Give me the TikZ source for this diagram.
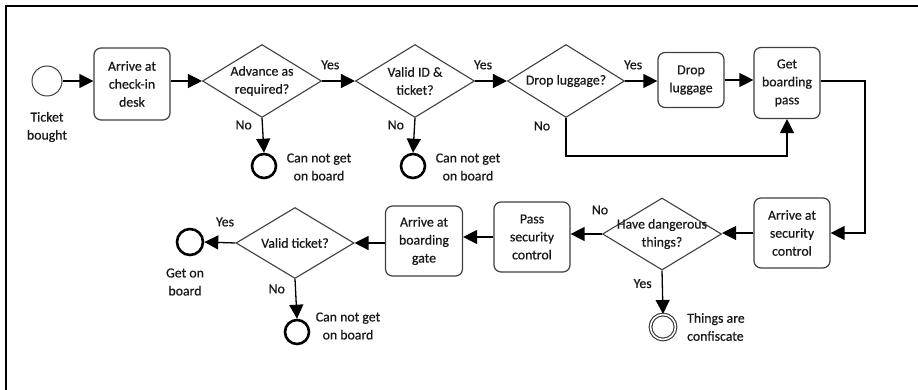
\documentclass[tikz,border=0pt]{standalone}
\usepackage{fontspec}
\setmainfont[FakeBold=0.5]{Carlito}
\usetikzlibrary{shapes.geometric,arrows.meta}
\begin{document}
\begin{tikzpicture}[x=1pt,y=-1pt,
  every node/.style={font=\fontsize{13.8}{18}\selectfont, text=black!90},
  box/.style={draw=black!75, line width=1.2pt, rounded corners=7pt, minimum width=76pt, minimum height=71pt, align=center, inner sep=1pt},
  dia/.style={draw=black!75, line width=1.1pt, diamond, minimum width=119pt, minimum height=73pt, inner sep=0pt},
  endc/.style={circle, draw=black, line width=2.6pt, minimum size=24pt, inner sep=0pt},
  startc/.style={circle, draw=black!75, line width=1pt, minimum size=30pt, inner sep=0pt},
  confc/.style={circle, draw=black!80, line width=1.1pt, double, double distance=1.6pt, minimum size=25pt, inner sep=0pt},
  arr/.style={draw=black, line width=1.3pt, -{Triangle[length=14pt,width=14pt]}},
  lbl/.style={align=center, inner sep=0pt}]
\useasboundingbox (0,0) rectangle (918,390);
\fill[white] (0,0) rectangle (918,390);
\draw[line width=2.6pt, black] (6,390) -- (6,6) -- (918,6);

% row 1
\node[startc] (start) at (47,81) {};
\node[lbl] (tb) at (47,127) {Ticket\\bought};
\node[box] (b1) at (132,84) [minimum height=72pt] {Arrive at\\check-in\\desk};
\node[dia, label={[lbl]center:Advance as\\required?}] (d1) at (262,81) {};
\node[dia, label={[lbl]center:Valid ID \&\\ticket?}] (d2) at (415,81) {};
\node[dia, minimum width=117pt, label={[lbl]center:Drop luggage?}] (d3) at (566,81) {};
\node[box, minimum width=66pt, minimum height=55pt] (drop) at (691,80) {Drop\\luggage};
\node[box, minimum width=66pt] (gbp) at (787,83) {Get\\boarding\\pass};
\node[endc] (e1) at (264,166) {};
\node[lbl] (t1) at (319,167) {Can not get\\on board};
\node[endc] (e2) at (413,166) {};
\node[lbl] (t2) at (468,167) {Can not get\\on board};

% row 2
\node[box, minimum height=70pt] (asc) at (792,233) {Arrive at\\security\\control};
\node[dia, minimum height=72pt, label={[lbl]center:Have dangerous\\things?}] (d4) at (662,234) {};
\node[box, minimum height=70pt] (psc) at (532,237) {Pass\\security\\control};
\node[box, minimum width=77pt, minimum height=70pt] (abg) at (424,241) {Arrive at\\boarding\\gate};
\node[dia, minimum width=118pt, minimum height=71pt, label={[lbl]center:Valid ticket?}] (d5) at (295,243) {};
\node[endc, minimum size=26pt] (geton) at (190,242) {};
\node[lbl] (tg) at (185,282) {Get on\\board};
\node[endc] (e3) at (297,332) {};
\node[lbl] (t3) at (348,326) {Can not get\\on board};
\node[confc] (conf) at (663,327) {};
\node[lbl, anchor=west, align=left] (tc) at (687,327) {Things are\\confiscate};

% connectors row 1
\draw[arr] (start.east) -- (start.east -| b1.west);
\draw[arr] (b1.east |- d1.west) -- (d1.west);
\draw[arr] (d1.east) -- (d2.west) node[pos=0.25, lbl, above=11pt] {Yes};
\draw[arr] (d2.east) -- (d3.west) node[pos=0.25, lbl, above=11pt] {Yes};
\draw[arr] (d3.east) -- (d3.east -| drop.west) node[pos=0.25, lbl, above=11pt] {Yes};
\draw[arr] (drop.east) -- (drop.east -| gbp.west);
\draw[arr] (d1.south) -- (e1.north) node[pos=0.2, lbl, left=10pt] {No};
\draw[arr] (d2.south) -- (e2.north) node[pos=0.2, lbl, left=10pt] {No};
\coordinate (nc) at (566,156);
\draw[arr] (d3.south) -- (nc) -| (gbp.south);
\node[lbl] at (542,126) {No};
\coordinate (rc) at (865,81);
\draw[arr] (gbp.east |- rc) -- (rc) |- (asc.east);

% connectors row 2
\draw[arr] (asc.west) -- (asc.west -| d4.east);
\draw[arr] (d4.west) -- (d4.west -| psc.east);
\node[lbl] at (600,210) {No};
\draw[arr] (d4.south) -- (conf.north) node[pos=0.3, lbl, left=10pt] {Yes};
\draw[arr] (psc.west) -- (psc.west -| abg.east);
\draw[arr] (abg.west |- d5.east) -- (d5.east);
\draw[arr] (d5.west) -- (geton.east);
\node[lbl] at (225,222) {Yes};
\draw[arr] (d5.south) -- (e3.north) node[pos=0.25, lbl, left=10pt] {No};
\end{tikzpicture}
\end{document}
